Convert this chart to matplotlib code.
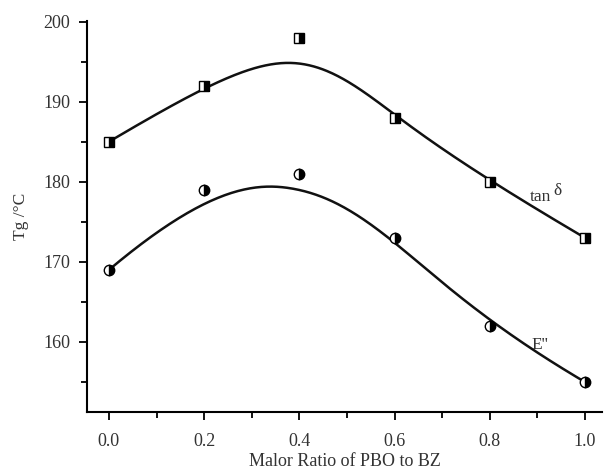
import numpy as np
import matplotlib
matplotlib.use('Agg')
from matplotlib import pyplot as plt
from matplotlib.ticker import MultipleLocator

ratio = [0.0, 0.2, 0.4, 0.6, 0.8, 1.0]
tanDelta = [185, 192, 198, 188, 180, 173]
eDouble = [169, 179, 181, 173, 162, 155]


def bsplineBasis(i, k, t, knots):
  if k == 0:
    if knots[i] <= t < knots[i+1]:
      return 1.0
    if t == knots[-1] and knots[i] < knots[i+1] == knots[-1]:
      return 1.0
    return 0.0
  a = 0.0
  if knots[i+k] != knots[i]:
    a = (t - knots[i])/(knots[i+k] - knots[i])*bsplineBasis(i, k-1, t, knots)
  b = 0.0
  if knots[i+k+1] != knots[i+1]:
    b = (knots[i+k+1] - t)/(knots[i+k+1] - knots[i+1])*bsplineBasis(i+1, k-1, t, knots)
  return a + b


def bspline(xs, ys, deg=3, n=300):
  # clamped B-spline using the points as control points
  npt = len(xs)
  inner = np.linspace(0, 1, npt - deg + 1)
  knots = np.concatenate([[0]*deg, inner, [1]*deg])
  ts = np.linspace(0, 1, n)
  bx, by = [], []
  for t in ts:
    w = np.array([bsplineBasis(i, deg, t, knots) for i in range(npt)])
    bx.append(np.dot(w, xs))
    by.append(np.dot(w, ys))
  return np.array(bx), np.array(by)


plt.rcParams['font.family'] = ['Liberation Serif', 'DejaVu Serif']
txtCol = '#333333'

fig = plt.figure(figsize=(6.06, 4.72), dpi=100)
ax = fig.add_axes([0.1436, 0.127, 0.85, 0.829])

for ys, mk in [(tanDelta, 's'), (eDouble, 'o')]:
  cx, cy = bspline(ratio, ys)
  ax.plot(cx, cy, color='#111111', lw=1.8)
  ax.plot(ratio, ys, linestyle='none', marker=mk, markersize=7.5,
          fillstyle='right', markerfacecolor='black',
          markerfacecoloralt='white', markeredgecolor='black',
          markeredgewidth=1.0)

ax.text(0.884, 178.1, 'tan', fontsize=12.5, color=txtCol,
        ha='left', va='center')
ax.text(0.934, 178.8, '\u03b4', fontsize=12.5, color=txtCol,
        ha='left', va='center')
ax.text(0.905, 159.6, "E''", fontsize=12.5, color=txtCol,
        ha='center', va='center')

ax.set_xlim(-0.046, 1.036)
ax.set_ylim(151.25, 200.1)
ax.xaxis.set_major_locator(MultipleLocator(0.2))
ax.xaxis.set_minor_locator(MultipleLocator(0.1))
ax.yaxis.set_major_locator(MultipleLocator(10))
ax.yaxis.set_minor_locator(MultipleLocator(5))
ax.xaxis.set_major_formatter(matplotlib.ticker.FormatStrFormatter('%.1f'))

for side in ['top', 'right']:
  ax.spines[side].set_visible(False)
for side in ['left', 'bottom']:
  ax.spines[side].set_linewidth(1.5)
ax.tick_params(which='both', direction='out', width=1.3, colors='black',
               labelcolor=txtCol, labelsize=13)
ax.tick_params(which='major', length=6)
ax.tick_params(which='minor', length=4)
ax.tick_params(axis='x', which='major', pad=9)
ax.tick_params(axis='y', which='major', pad=6)

ax.set_xlabel('Malor Ratio of PBO to BZ', fontsize=13, color=txtCol, labelpad=2)
ax.set_ylabel('Tg /\u00b0C', fontsize=12.5, color=txtCol, labelpad=10)

fig.savefig('out.png', dpi=100)
